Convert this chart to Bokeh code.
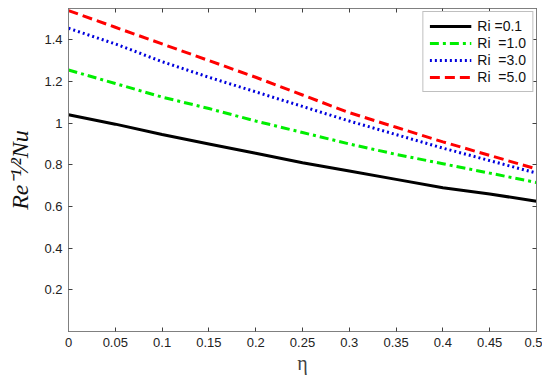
import numpy as np
from bokeh.plotting import figure
from bokeh.models import Range1d, FixedTicker, LinearAxis, Legend, LegendItem
from bokeh.embed import file_html
from bokeh.resources import INLINE

eta = [0.0, 0.05, 0.1, 0.15, 0.2, 0.25, 0.3, 0.35, 0.4, 0.45, 0.5]
nu_ri01 = [1.04, 0.995, 0.945, 0.90, 0.855, 0.81, 0.77, 0.73, 0.69, 0.66, 0.625]
nu_ri10 = [1.255, 1.19, 1.125, 1.07, 1.01, 0.955, 0.90, 0.85, 0.805, 0.76, 0.715]
nu_ri30 = [1.455, 1.38, 1.295, 1.22, 1.15, 1.08, 1.01, 0.945, 0.88, 0.82, 0.76]
nu_ri50 = [1.54, 1.46, 1.38, 1.30, 1.22, 1.135, 1.05, 0.98, 0.91, 0.845, 0.78]
series_labels = ["Ri =0.1", "Ri  =1.0", "Ri  =3.0", "Ri  =5.0"]

x_ticks = [0, 0.05, 0.1, 0.15, 0.2, 0.25, 0.3, 0.35, 0.4, 0.45, 0.5]
x_tick_labels = ["0", "0.05", "0.1", "0.15", "0.2", "0.25", "0.3", "0.35", "0.4", "0.45", "0.5"]
y_ticks = [0.2, 0.4, 0.6, 0.8, 1.0, 1.2, 1.4]
y_tick_labels = ["0.2", "0.4", "0.6", "0.8", "1", "1.2", "1.4"]

FONT = "Liberation Sans"
SERIF = "Liberation Serif"

p = figure(width=542, height=376, output_backend="svg", toolbar_location=None,
           x_range=Range1d(0, 0.5), y_range=Range1d(0, 1.55),
           min_border_left=68, min_border_right=6, min_border_top=8, min_border_bottom=40)
p.grid.visible = False
p.outline_line_color = "#808080"
p.background_fill_color = "white"
p.border_fill_color = "white"

def style_axis(ax, ticks, labels=None, show_labels=True):
    ax.ticker = FixedTicker(ticks=ticks)
    if labels is not None:
        ax.major_label_overrides = {t: l for t, l in zip(ticks, labels)}
    ax.major_tick_in = 4
    ax.major_tick_out = 0
    ax.minor_tick_in = 0
    ax.minor_tick_out = 0
    ax.axis_line_color = "#808080"
    ax.major_tick_line_color = "#404040"
    ax.major_label_text_font = FONT
    ax.major_label_text_font_size = "13px" if show_labels else "0px"
    ax.major_label_text_color = "#222222"
    ax.major_label_standoff = 6 if show_labels else 0

style_axis(p.xaxis[0], x_ticks, x_tick_labels)
style_axis(p.yaxis[0], y_ticks, y_tick_labels)
p.xaxis.axis_label = "η"
p.xaxis.axis_label_text_font = SERIF
p.xaxis.axis_label_text_font_style = "normal"
p.xaxis.axis_label_text_font_size = "20px"
p.xaxis.axis_label_standoff = 2

p.yaxis.axis_label = "Re⁻¹⁄²Nu"
p.yaxis.axis_label_text_font = SERIF
p.yaxis.axis_label_text_font_style = "italic"
p.yaxis.axis_label_text_font_size = "24px"
p.yaxis.axis_label_text_color = "#111111"
p.yaxis.axis_label_standoff = 8

top_ax = LinearAxis()
right_ax = LinearAxis()
style_axis(top_ax, x_ticks, show_labels=False)
style_axis(right_ax, y_ticks, show_labels=False)
top_ax.major_label_text_alpha = 0
right_ax.major_label_text_alpha = 0
p.add_layout(top_ax, "above")
p.add_layout(right_ax, "right")

r0 = p.line(eta, nu_ri01, line_color="black", line_width=3)
r1 = p.line(eta, nu_ri10, line_color="#00ee00", line_width=3, line_dash="9 4 3 4")
r2 = p.line(eta, nu_ri30, line_color="#0000dd", line_width=3, line_dash="2 3")
r3 = p.line(eta, nu_ri50, line_color="#ff0000", line_width=3, line_dash="10 5")
m1 = p.scatter(x=[], y=[], marker="circle", size=7, fill_color="#00ee00", line_color="#00ee00")
m2 = p.scatter(x=[], y=[], marker="circle", size=7, fill_color="#0000dd", line_color="#0000dd")
m3 = p.scatter(x=[], y=[], marker="circle", size=7, fill_color="#ff0000", line_color="#ff0000")

legend = Legend(items=[
    LegendItem(label=series_labels[0], renderers=[r0]),
    LegendItem(label=series_labels[1], renderers=[r1, m1]),
    LegendItem(label=series_labels[2], renderers=[r2, m2]),
    LegendItem(label=series_labels[3], renderers=[r3, m3]),
], location="top_right")
legend.label_text_font = FONT
legend.label_text_font_size = "14px"
legend.label_text_color = "#111111"
legend.label_standoff = 6
legend.label_height = 14
legend.glyph_width = 42
legend.glyph_height = 14
legend.spacing = 1
legend.padding = 6
legend.margin = 3
legend.border_line_color = "#808080"
legend.border_line_width = 1
legend.background_fill_alpha = 1
p.add_layout(legend)

open("out.html", "w").write(file_html(p, INLINE))
